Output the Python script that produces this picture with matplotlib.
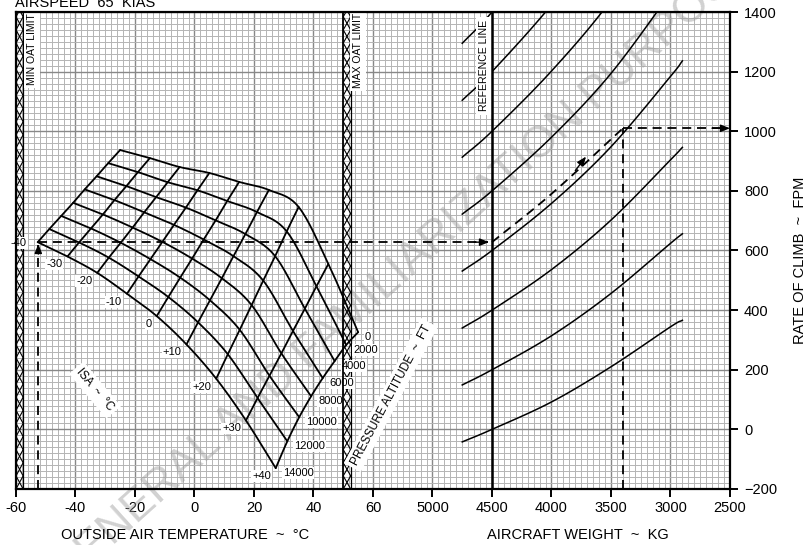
import numpy as np
import matplotlib
matplotlib.use("Agg")
import matplotlib.pyplot as plt

plt.rcParams['font.family'] = ['Liberation Sans', 'DejaVu Sans']

# ---------------- chart data ----------------
x_tick_labels = ['-60', '-40', '-20', '0', '20', '40', '60',
                 '5000', '4500', '4000', '3500', '3000', '2500']
roc_ticks = [-200, 0, 200, 400, 600, 800, 1000, 1200, 1400]

# temperature / altitude carpet
pressure_altitudes_ft = [0, 2000, 4000, 6000, 8000, 10000, 12000, 14000]
isa_deviations_c = [-40, -30, -20, -10, 0, 10, 20, 30, 40]
isa_temp_c = [15.0, 11.0, 7.1, 3.1, -0.8, -4.8, -8.8, -12.7]
carpet_roc = [
    [937, 910, 880, 860, 830, 803, 746, 555, 326],    # 0 ft
    [893, 863, 829, 802, 766, 729, 664, 480, 283],    # 2000 ft
    [849, 816, 779, 744, 701, 655, 581, 405, 229],    # 4000 ft
    [805, 769, 728, 686, 637, 581, 499, 330, 172],    # 6000 ft
    [760, 721, 677, 629, 573, 507, 417, 255, 111],    # 8000 ft
    [716, 674, 626, 571, 509, 433, 334, 180, 41],     # 10000 ft
    [672, 627, 576, 513, 444, 359, 252, 105, -40],    # 12000 ft
    [628, 580, 525, 455, 380, 285, 170, 30, -130],    # 14000 ft
]

# weight correction curves (value at the 4500 kg reference line)
reference_weight_kg = 4500
curve_weights_kg = [4750, 4500, 4000, 3500, 3000, 2900]
curve_ref_roc = [0, 200, 400, 600, 800, 1000, 1200, 1400]
curve_roc = [
    [-42, 0, 92, 210, 344, 366],
    [149, 200, 314, 456, 624, 656],
    [340, 400, 536, 702, 904, 946],
    [531, 600, 758, 948, 1184, 1236],
    [722, 800, 980, 1194, 1464, 1526],
    [913, 1000, 1202, 1440, 1744, 1816],
    [1104, 1200, 1424, 1686, 2024, 2106],
    [1295, 1400, 1646, 1932, 2304, 2396],
]

# operating limits
min_oat_c = -60
max_oat_c = 50

# worked example
example_oat_c = -52.5
example_weights_kg = [4500, 4000, 3400]
example_guide_roc = [628, 790, 1010]
example_arrow_weight_kg = 3750
example_arrow_roc = 893


# ---------------- helpers ----------------
def t2u(t):
    """Temperature (deg C) to horizontal chart units."""
    return (np.asarray(t, dtype=float) + 60.0) / 20.0


def w2u(w):
    """Aircraft weight (kg) to horizontal chart units."""
    return 7.0 + (5000.0 - np.asarray(w, dtype=float)) / 500.0


def smooth(xs, ys, n=16):
    """Catmull-Rom path through the given nodes."""
    xs = np.asarray(xs, float)
    ys = np.asarray(ys, float)
    if len(xs) < 3:
        return xs, ys
    px = np.concatenate([[2 * xs[0] - xs[1]], xs, [2 * xs[-1] - xs[-2]]])
    py = np.concatenate([[2 * ys[0] - ys[1]], ys, [2 * ys[-1] - ys[-2]]])
    ox, oy = [], []
    t = np.linspace(0, 1, n, endpoint=False)
    for i in range(1, len(px) - 2):
        for arr, out in ((px, ox), (py, oy)):
            p0, p1, p2, p3 = arr[i - 1], arr[i], arr[i + 1], arr[i + 2]
            out.extend(0.5 * ((2 * p1) + (-p0 + p2) * t
                              + (2 * p0 - 5 * p1 + 4 * p2 - p3) * t ** 2
                              + (-p0 + 3 * p1 - 3 * p2 + p3) * t ** 3))
    ox.append(xs[-1])
    oy.append(ys[-1])
    return np.array(ox), np.array(oy)


def arrowhead(ax, tip, tail):
    ax.annotate('', xy=tip, xytext=tail,
                arrowprops=dict(arrowstyle='-|>,head_length=0.55,head_width=0.22',
                                color='black', lw=1.0, shrinkA=0, shrinkB=0),
                zorder=8)


def hatch_strip(ax, u0, u1, y0, y1, step=44.0):
    """Zig-zag hatched limit strip between two verticals."""
    ys = np.arange(y0, y1 + step, step)
    k = np.arange(len(ys)) % 2
    ax.plot(np.where(k == 0, u0, u1), ys, color='black', lw=0.8, zorder=3)
    ax.plot(np.where(k == 0, u1, u0), ys, color='black', lw=0.8, zorder=3)
    ax.plot([u1, u1], [y0, y1], color='black', lw=0.9, zorder=3)
    # the limit line itself stays visible above the label backing
    ax.plot([u0, u0], [y0, y1], color='black', lw=1.3, zorder=7)


# ---------------- figure ----------------
fig = plt.figure(figsize=(8.12, 5.45), dpi=100)
ax = fig.add_axes([16 / 812, (545 - 489) / 545, 714 / 812, 477 / 545])
ax.set_xlim(0, 12)
ax.set_ylim(-200, 1400)

ax.set_xticks(np.arange(13))
ax.set_xticklabels(x_tick_labels)
ax.set_xticks(np.arange(0, 12.001, 0.1), minor=True)
ax.set_yticks(roc_ticks)
ax.set_yticks(np.arange(-200, 1401, 20), minor=True)
ax.yaxis.tick_right()
ax.tick_params(which='major', direction='out', length=6, width=1.4,
               labelsize=10.5, colors='black', pad=3)
ax.tick_params(axis='y', pad=4)
ax.tick_params(which='minor', length=0)
ax.grid(which='minor', color='#b4b4b4', lw=0.7, zorder=0)
ax.grid(which='major', color='#888888', lw=1.0, zorder=0)
ax.set_axisbelow(True)
for s in ax.spines.values():
    s.set_linewidth(1.6)
    s.set_zorder(9)

# watermark
ax.text(0.57, 0.50, 'FOR GENERAL AND FAMILIARIZATION PURPOSES ONLY',
        transform=ax.transAxes, rotation=42, fontsize=32, color='#9a9a9a',
        alpha=0.45, ha='center', va='center', rotation_mode='anchor', zorder=1)

# limit strips
hatch_strip(ax, t2u(min_oat_c), t2u(min_oat_c + 2.4), -200, 1400)
hatch_strip(ax, t2u(max_oat_c), t2u(max_oat_c + 2.5), -200, 1400)

# carpet: lines of constant pressure altitude and constant ISA deviation
oat = np.array(isa_temp_c)[:, None] + np.array(isa_deviations_c)[None, :]
roc = np.array(carpet_roc, float)
U = t2u(oat)
for i in range(len(pressure_altitudes_ft)):
    sx, sy = smooth(U[i], roc[i])
    ax.plot(sx, sy, color='black', lw=1.3, zorder=4, solid_capstyle='round')
for j in range(len(isa_deviations_c)):
    sx, sy = smooth(U[:, j], roc[:, j])
    ax.plot(sx, sy, color='black', lw=1.3, zorder=4, solid_capstyle='round')

lbl_box = dict(boxstyle='square,pad=0.08', fc='white', ec='none')
for j, d in enumerate(isa_deviations_c):
    txt = f'+{d}' if d > 0 else f'{d}'
    off = (-11, -1) if d == -40 else (-5, -8)
    ax.annotate(txt, xy=(U[-1, j], roc[-1, j]), xytext=off,
                textcoords='offset pixels', ha='right', va='center',
                fontsize=8, bbox=lbl_box, zorder=5)
for i, h in enumerate(pressure_altitudes_ft):
    ax.annotate(f'{h}', xy=(U[i, -1], roc[i, -1]), xytext=(7, -5),
                textcoords='offset pixels', ha='left', va='center',
                fontsize=8, bbox=lbl_box, zorder=5)

# weight curves
ax.axvline(w2u(reference_weight_kg), color='black', lw=1.8, zorder=7)
for vals in curve_roc:
    sx, sy = smooth(w2u(curve_weights_kg), vals)
    ax.plot(sx, sy, color='black', lw=1.1, zorder=4)

# worked example
dash = dict(color='black', lw=1.3, dashes=(5, 3.2), zorder=5)
node_u, node_roc = t2u(example_oat_c), example_guide_roc[0]
ref_u = w2u(reference_weight_kg)
ax.plot([node_u, node_u], [-200, node_roc - 8], **dash)
arrowhead(ax, (node_u, node_roc - 6), (node_u, node_roc - 40))
ax.plot([node_u, ref_u - 0.06], [node_roc, node_roc], **dash)
arrowhead(ax, (ref_u - 0.05, node_roc), (ref_u - 0.3, node_roc))
gx, gy = smooth(w2u(example_weights_kg), example_guide_roc)
ax.plot(gx, gy, **dash)
aw = w2u(example_arrow_weight_kg)
arrowhead(ax, (aw + 0.08, example_arrow_roc + 22), (aw - 0.1, example_arrow_roc - 25))
ew, er = w2u(example_weights_kg[-1]), example_guide_roc[-1]
ax.plot([ew, ew], [-200, er], **dash)
ax.plot([ew, 11.9], [er, er], **dash)
arrowhead(ax, (12.0, er), (11.7, er))

# rotated labels with white backing
box = dict(boxstyle='square,pad=0.3', fc='white', ec='none')
ax.text(0.0225, 0.9224, 'MIN OAT LIMIT', transform=ax.transAxes, rotation=90,
        ha='center', va='center', fontsize=7.5, bbox=box, zorder=6)
ax.text(0.479, 0.920, 'MAX OAT LIMIT', transform=ax.transAxes, rotation=90,
        ha='center', va='center', fontsize=7.5, bbox=box, zorder=6)
ax.text(0.6555, 0.887, 'REFERENCE LINE', transform=ax.transAxes, rotation=90,
        ha='center', va='center', fontsize=7.6, bbox=box, zorder=6)
ax.text(0.1106, 0.2075, 'ISA  ~  °C', transform=ax.transAxes, rotation=-50,
        ha='center', va='center', fontsize=8.5, bbox=box, zorder=6)
ax.text(0.525, 0.197, 'PRESSURE ALTITUDE  ~  FT', transform=ax.transAxes,
        rotation=62, ha='center', va='center', fontsize=8.5, bbox=box, zorder=6)

# titles
fig.text(15 / 812, 1 - 7 / 545, 'AIRSPEED  65  KIAS', ha='left', va='baseline',
         fontsize=10.5)
fig.text(185 / 812, 1 - 535 / 545, 'OUTSIDE AIR TEMPERATURE  ~  °C', ha='center',
         va='center', fontsize=10.5)
fig.text(578 / 812, 1 - 535 / 545, 'AIRCRAFT WEIGHT  ~  KG', ha='center',
         va='center', fontsize=10.5)
fig.text(800 / 812, 1 - 260 / 545, 'RATE OF CLIMB  ~  FPM', ha='center',
         va='center', rotation=90, fontsize=10.5)

fig.savefig('out.png', dpi=100)
